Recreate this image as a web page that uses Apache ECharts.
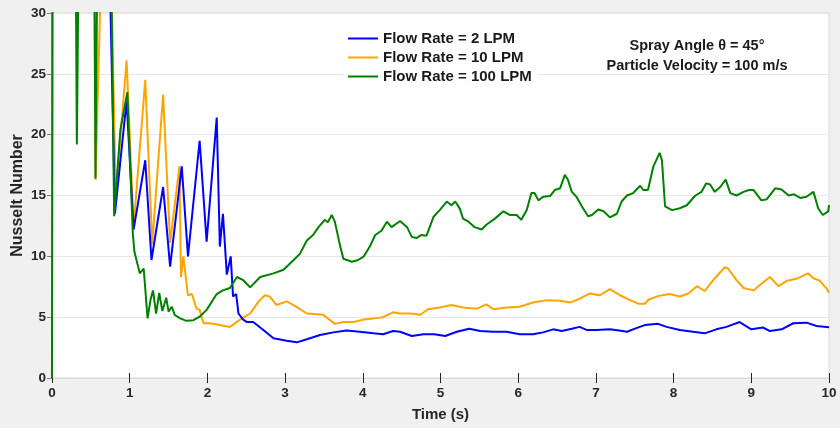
<!DOCTYPE html>
<html>
<head>
<meta charset="utf-8">
<script src="https://cdn.jsdelivr.net/npm/echarts@6/dist/echarts.min.js"></script>
<style>
html,body{margin:0;padding:0;background:#f0f0f0;}
#c{width:840px;height:428px;}
</style>
</head>
<body>
<div id="c"></div>
<script>
// ---- data ----
const xTicks = [0,1,2,3,4,5,6,7,8,9,10];
const yTicks = [0,5,10,15,20,25,30];
const seriesNames = ['Flow Rate = 2 LPM','Flow Rate = 10 LPM','Flow Rate = 100 LPM'];

const blueT = [0,0.72,0.81,0.96,1.05,1.20,1.28,1.43,1.52,1.67,1.75,1.90,1.99,2.12,2.16,2.20,2.25,2.30,2.33,2.37,2.40,2.46,2.51,2.59,2.72,2.85,3.02,3.15,3.28,3.45,3.62,3.79,3.96,4.14,4.26,4.39,4.48,4.63,4.78,4.92,5.06,5.21,5.37,5.51,5.68,5.85,6.02,6.19,6.32,6.45,6.56,6.69,6.79,6.88,7.01,7.18,7.30,7.40,7.52,7.63,7.80,7.91,8.08,8.25,8.40,8.55,8.68,8.85,9.00,9.15,9.24,9.39,9.54,9.71,9.84,10.0];
const blueV = [40,40,13.5,22.8,12.2,17.9,9.7,15.7,9.15,17.4,10.0,19.5,11.2,21.4,10.8,13.5,8.5,10.0,6.7,6.9,5.3,4.8,4.6,4.6,3.95,3.26,3.07,2.93,3.18,3.53,3.75,3.9,3.8,3.67,3.6,3.86,3.8,3.45,3.6,3.6,3.45,3.8,4.05,3.86,3.8,3.8,3.6,3.6,3.75,4.0,3.86,4.05,4.2,3.95,3.95,4.0,3.9,3.8,4.1,4.35,4.45,4.2,3.95,3.8,3.67,4.0,4.2,4.6,4.0,4.15,3.86,4.0,4.5,4.55,4.27,4.17];

const orangeT = [0,0.54,0.56,0.66,0.74,0.82,0.96,1.05,1.20,1.29,1.43,1.52,1.64,1.66,1.69,1.75,1.80,1.86,1.90,1.95,2.03,2.16,2.29,2.42,2.55,2.66,2.74,2.80,2.89,3.02,3.13,3.28,3.49,3.64,3.75,3.88,4.01,4.14,4.26,4.39,4.48,4.61,4.74,4.84,4.99,5.14,5.29,5.47,5.59,5.68,5.85,6.02,6.19,6.37,6.54,6.67,6.80,6.92,7.05,7.18,7.31,7.44,7.55,7.63,7.68,7.81,7.95,8.08,8.19,8.30,8.40,8.53,8.66,8.70,8.81,8.90,9.03,9.11,9.24,9.35,9.46,9.58,9.73,9.80,9.88,9.97,10.0];
const orangeV = [40,40,16.3,40,40,15,26.1,12.4,24.5,11.0,23.3,11.1,17.4,8.3,10.0,6.8,6.9,5.7,5.6,4.5,4.5,4.35,4.2,4.8,5.3,6.3,6.8,6.7,6.0,6.3,5.9,5.3,5.2,4.45,4.6,4.6,4.8,4.9,5.0,5.4,5.3,5.3,5.2,5.65,5.8,6.0,5.8,5.7,6.05,5.65,5.8,5.85,6.2,6.4,6.35,6.2,6.55,6.95,6.8,7.3,6.8,6.4,6.1,6.1,6.45,6.75,6.9,6.7,6.95,7.55,7.15,8.2,9.1,9.0,8.05,7.4,7.2,7.65,8.3,7.55,8.0,8.15,8.6,8.2,8.0,7.35,7.0];

const greenT = [0,0.01,0.30,0.32,0.35,0.54,0.56,0.59,0.75,0.80,0.88,0.97,1.04,1.06,1.13,1.18,1.23,1.27,1.30,1.34,1.38,1.42,1.47,1.50,1.54,1.58,1.65,1.73,1.82,1.90,1.99,2.12,2.20,2.29,2.38,2.46,2.55,2.68,2.85,2.98,3.11,3.19,3.28,3.36,3.43,3.51,3.55,3.60,3.64,3.71,3.75,3.86,3.94,4.01,4.09,4.16,4.24,4.31,4.37,4.48,4.57,4.63,4.69,4.75,4.82,4.91,4.99,5.08,5.14,5.19,5.25,5.29,5.36,5.44,5.53,5.59,5.70,5.81,5.89,5.98,6.04,6.11,6.17,6.21,6.26,6.32,6.41,6.47,6.54,6.60,6.64,6.69,6.75,6.82,6.90,6.95,7.03,7.10,7.18,7.27,7.33,7.40,7.48,7.57,7.61,7.67,7.74,7.82,7.85,7.89,7.98,8.08,8.17,8.28,8.36,8.42,8.47,8.53,8.60,8.67,8.73,8.81,8.90,8.97,9.03,9.13,9.20,9.31,9.39,9.48,9.55,9.63,9.71,9.80,9.86,9.92,9.99,10.0];
const greenV = [0,40,40,19.2,40,40,16.4,40,40,13.3,20.4,23.5,11.9,10.4,8.6,9.0,4.9,6.5,7.2,5.3,7.0,5.5,6.6,5.45,5.86,5.18,4.9,4.7,4.75,5.04,5.6,6.9,7.2,7.4,8.3,8.05,7.45,8.3,8.6,8.9,9.7,10.2,11.3,11.75,12.4,13.0,12.8,13.4,12.85,10.8,9.8,9.56,9.7,9.97,10.8,11.75,12.1,12.85,12.4,12.9,12.4,11.6,11.5,11.75,11.7,13.25,13.8,14.5,14.2,14.5,13.9,13.1,12.85,12.4,12.2,12.6,13.1,13.7,13.4,13.4,13.0,13.8,15.2,15.2,14.6,14.9,14.95,15.45,15.6,16.7,16.3,15.3,14.9,14.1,13.3,13.4,13.85,13.7,13.2,13.5,14.5,15.0,15.2,15.8,15.45,15.45,17.4,18.5,17.9,14.1,13.8,13.95,14.2,15.0,15.3,16.0,15.9,15.3,15.7,16.3,15.2,15.0,15.3,15.45,15.45,14.6,14.7,15.6,15.5,15.0,15.1,14.8,14.9,15.3,13.95,13.4,13.7,14.2];

const colors = ['#0000ff','#ffa500','#008000'];
const annotation = ['Spray Angle \u03b8 = 45\u00b0','Particle Velocity = 100 m/s'];

// ---- chart ----
function pairs(t,v){ return t.map((x,i)=>[x,v[i]]); }
const seriesData = [pairs(blueT,blueV), pairs(orangeT,orangeV), pairs(greenT,greenV)];

const chart = echarts.init(document.getElementById('c'), null, {renderer:'canvas'});
const ff = "'Liberation Sans',Arial,sans-serif";

chart.setOption({
  backgroundColor:'#f0f0f0',
  animation:false,
  grid:{left:52,right:11,top:13,bottom:50,show:true,backgroundColor:'#ffffff',borderColor:'#d9d9d9',borderWidth:1,outerBoundsMode:'none'},
  legend:{
    data:seriesNames, orient:'vertical', left:344, top:29,
    itemWidth:30, itemHeight:10, itemGap:4,
    backgroundColor:'#ffffff', padding:[2,6,2,4],
    textStyle:{fontFamily:ff,fontWeight:'bold',fontSize:15,color:'#1a1a1a'},
    icon:'path://M0,0 L30,0 L30,2 L0,2 Z'
  },
  graphic:[
    {type:'text',x:697,y:38,style:{text:annotation[0],fill:'#1a1a1a',font:"bold 14.5px "+ff,align:'center'}},
    {type:'text',x:697,y:58,style:{text:annotation[1],fill:'#1a1a1a',font:"bold 14.5px "+ff,align:'center'}}
  ],
  xAxis:[
    {type:'value',min:xTicks[0],max:xTicks[xTicks.length-1],interval:1,position:'bottom',
     name:'Time (s)',nameLocation:'middle',nameGap:29,nameMoveOverlap:false,
     nameTextStyle:{fontFamily:ff,fontWeight:'bold',fontSize:15,color:'#262626'},
     axisLine:{show:true,lineStyle:{color:'#d9d9d9'}},
     axisTick:{show:true,inside:true,length:5,lineStyle:{color:'#262626'}},
     axisLabel:{fontFamily:ff,fontWeight:'bold',fontSize:13.5,color:'#262626',margin:8},
     splitLine:{show:false}},
    {type:'value',min:0,max:10,interval:1,position:'top',
     axisLine:{show:true,lineStyle:{color:'#d9d9d9'}},
     axisTick:{show:true,inside:true,length:5,lineStyle:{color:'#262626'}},
     axisLabel:{show:false},splitLine:{show:false}}
  ],
  yAxis:[
    {type:'value',min:yTicks[0],max:yTicks[yTicks.length-1],interval:5,position:'left',
     name:'Nusselt Number',nameLocation:'middle',nameGap:26,nameMoveOverlap:false,
     nameTextStyle:{fontFamily:ff,fontWeight:'bold',fontSize:16,color:'#262626'},
     axisLine:{show:true,lineStyle:{color:'#d9d9d9'}},
     axisTick:{show:false},
     axisLabel:{fontFamily:ff,fontWeight:'bold',fontSize:13.5,color:'#262626',margin:6},
     splitLine:{show:true,lineStyle:{color:'#e8e8e8',width:1}}},
    {type:'value',min:0,max:30,interval:5,position:'right',
     axisLine:{show:true,lineStyle:{color:'#7f7f7f',width:1.5}},
     axisTick:{show:true,inside:true,length:5,lineStyle:{color:'#7f7f7f'}},
     axisLabel:{show:false},splitLine:{show:false}}
  ],
  series: seriesNames.map((n,i)=>({
    name:n,type:'line',data:seriesData[i],showSymbol:false,symbol:'none',clip:true,
    z: i===2?4:(i===0?3:2),
    lineStyle:{color:colors[i],width:2},itemStyle:{color:colors[i]}
  }))
});
</script>
</body>
</html>
